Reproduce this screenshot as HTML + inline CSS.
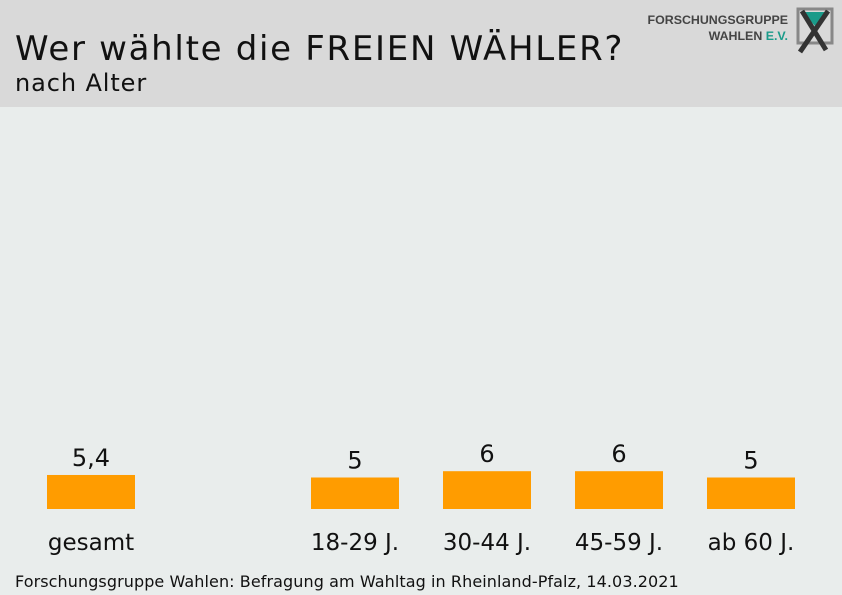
<!DOCTYPE html>
<html><head><meta charset="utf-8"><style>
body{margin:0;width:842px;height:595px;overflow:hidden;background:#e9edec;font-family:"DejaVu Sans","Liberation Sans",sans-serif;}
#hdr{position:absolute;left:0;top:0;width:842px;height:107px;background:#d9d9d9;}
</style></head><body>
<div id="hdr"></div>
<svg width="842" height="595" style="position:absolute;left:0;top:0">
<text x="15" y="60" font-size="34" letter-spacing="1.7" fill="#111">Wer wählte die FREIEN WÄHLER?</text>
<text x="15" y="91" font-size="24" letter-spacing="0.9" fill="#111">nach Alter</text>
<g>
<text x="788" y="24" font-size="12.4" font-weight="bold" fill="#444" text-anchor="end" font-family="Liberation Sans, sans-serif">FORSCHUNGSGRUPPE</text>
<text x="788" y="40" font-size="12.4" font-weight="bold" fill="#444" text-anchor="end" font-family="Liberation Sans, sans-serif">WAHLEN <tspan fill="#1a9b8a">E.V.</tspan></text>
<rect x="798" y="9" width="34" height="34" fill="none" stroke="#888" stroke-width="3"/>
<polygon points="802,12 828,12 815,26" fill="#1a9b8a"/>
<line x1="802" y1="11" x2="826" y2="50" stroke="#333" stroke-width="5"/>
<line x1="828" y1="11" x2="800" y2="52" stroke="#333" stroke-width="5"/>
</g>
<g id="bars"></g>
<text x="15" y="587" font-size="16" letter-spacing="0.08" fill="#111">Forschungsgruppe Wahlen: Befragung am Wahltag in Rheinland-Pfalz, 14.03.2021</text>
</svg>
<script>
const categories=["gesamt","18-29 J.","30-44 J.","45-59 J.","ab 60 J."];
const values=[5.4,5,6,6,5];
const valueLabels=["5,4","5","6","6","5"];
const slots=[0,2,3,4,5];
const base=509, k=6.3, bw=88;
function xPos(s){return 47+(s===0?0:264+(s-2)*132);}
function yH(v){return v*k;}
const g=document.getElementById('bars');
const ns='http://www.w3.org/2000/svg';
categories.forEach((c,i)=>{
 const x=xPos(slots[i]),h=yH(values[i]);
 const r=document.createElementNS(ns,'rect');
 r.setAttribute('x',x);r.setAttribute('y',base-h);r.setAttribute('width',bw);r.setAttribute('height',h);r.setAttribute('fill','#ff9c00');
 
 
 g.appendChild(r);
 const t=document.createElementNS(ns,'text');
 t.setAttribute('x',x+bw/2);t.setAttribute('y',base-h-9);t.setAttribute('text-anchor','middle');t.setAttribute('font-size','24');t.setAttribute('fill','#111');
 t.textContent=valueLabels[i];
 
 
 g.appendChild(t);
 const l=document.createElementNS(ns,'text');
 l.setAttribute('x',x+bw/2);l.setAttribute('y',550);l.setAttribute('text-anchor','middle');l.setAttribute('font-size','23');l.setAttribute('fill','#111');
 l.textContent=c;
 
 
 g.appendChild(l);
});
</script>
</body></html>
